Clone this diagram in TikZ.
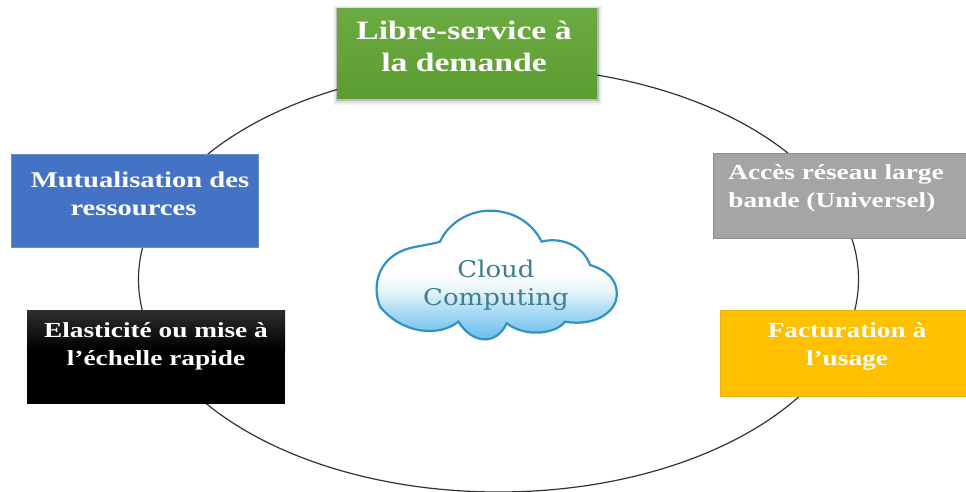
\documentclass[tikz,border=0pt]{standalone}
\usepackage{fontspec}
\setmainfont{Liberation Serif}
\newfontfamily\boxfont[FakeStretch=1.27]{Liberation Serif}
\newfontfamily\cloudfont[FakeStretch=1.13]{DejaVu Serif}
\definecolor{grn}{HTML}{5FA332}
\definecolor{blu}{HTML}{4472C4}
\definecolor{gry}{HTML}{A5A5A5}
\definecolor{yel}{HTML}{FFC000}
\definecolor{cloudline}{HTML}{2F93C6}
\definecolor{cloudtext}{HTML}{3D7E90}
\pgfdeclareverticalshading{cloudgrad}{100bp}{
  rgb(0bp)=(0.36,0.72,0.92);
  rgb(25bp)=(0.36,0.72,0.92);
  rgb(38bp)=(0.68,0.86,0.96);
  rgb(45bp)=(0.90,0.96,0.98);
  rgb(51bp)=(1,1,1);
  rgb(100bp)=(1,1,1)}
\tikzset{
  x=1pt,y=-1pt,
  cardtext/.style={inner sep=0pt,align=center,text=white,font=\boxfont\bfseries\fontsize{21.5}{28}\selectfont},
  ring/.style={draw=black!80,line width=1.2pt},
}
\begin{document}
\begin{tikzpicture}
\useasboundingbox (0,0) rectangle (966,492);
\fill[white] (0,0) rectangle (966,492);
\draw[ring] (498.5,279.5) ellipse [x radius=360, y radius=212.5];
% green card with soft shadow
\fill[black,opacity=.05] (333,6) rectangle (602,105);
\fill[black,opacity=.08] (335,7) rectangle (600,103);
\fill[black,opacity=.15] (336,8) rectangle (599,101);
\path[top color=grn!92!white,bottom color=grn!96!black] (337,9) rectangle (597,99);
\node[cardtext,font=\boxfont\bfseries\fontsize{26.5}{32}\selectfont] (libre) at (464,46) {Libre-service à\\la demande};
\path[fill=blu,draw=blu!80!white,line width=.6pt] (11,154) rectangle (258,247);
\node[cardtext,font=\boxfont\bfseries\fontsize{22.5}{27.5}\selectfont] (mutual) at (140,194) {Mutualisation des\\ressources\hbox to 13pt{}};
\path[fill=gry,draw=gry!85!black,line width=.6pt] (713,153) rectangle (966,238);
\node[cardtext,align=left] (acces) at (836,188) {Accès réseau large\\bande (Universel)};
\path[fill=yel,draw=yel!80!gray,line width=.6pt] (720,310) rectangle (966,396);
\node[cardtext] (factu) at (847,346) {Facturation à\\l’usage};
\path[fill=black] (27,310) rectangle (285,404);
\path[top color=black!82,bottom color=black] (27,310) rectangle (285,350);
\node[cardtext] (elast) at (156,346.5) {Elasticité ou mise à\\l’échelle rapide};
% cloud
\begin{scope}[shift={(360,190)},x=0.3333pt,y=-0.3333pt]
\path[draw=cloudline,line width=2.2pt,shade,shading=cloudgrad]
 (60,350) .. controls (35,290) and (50,190) .. (170,170)
 .. controls (195,165) and (225,160) .. (240,155)
 .. controls (270,90) and (340,60) .. (395,62)
 .. controls (470,65) and (520,105) .. (545,155)
 .. controls (600,140) and (670,165) .. (690,225)
 .. controls (740,240) and (775,270) .. (770,320)
 .. controls (765,370) and (700,410) .. (615,395)
 .. controls (590,430) and (500,445) .. (440,400)
 .. controls (410,465) and (340,465) .. (295,395)
 .. controls (240,440) and (130,435) .. (60,350) -- cycle;
\end{scope}
\node[inner sep=0pt,align=center,text=cloudtext,font=\cloudfont\fontsize{23}{28}\selectfont] (cloud) at (496,285) {Cloud\\Computing};
\end{tikzpicture}
\end{document}
